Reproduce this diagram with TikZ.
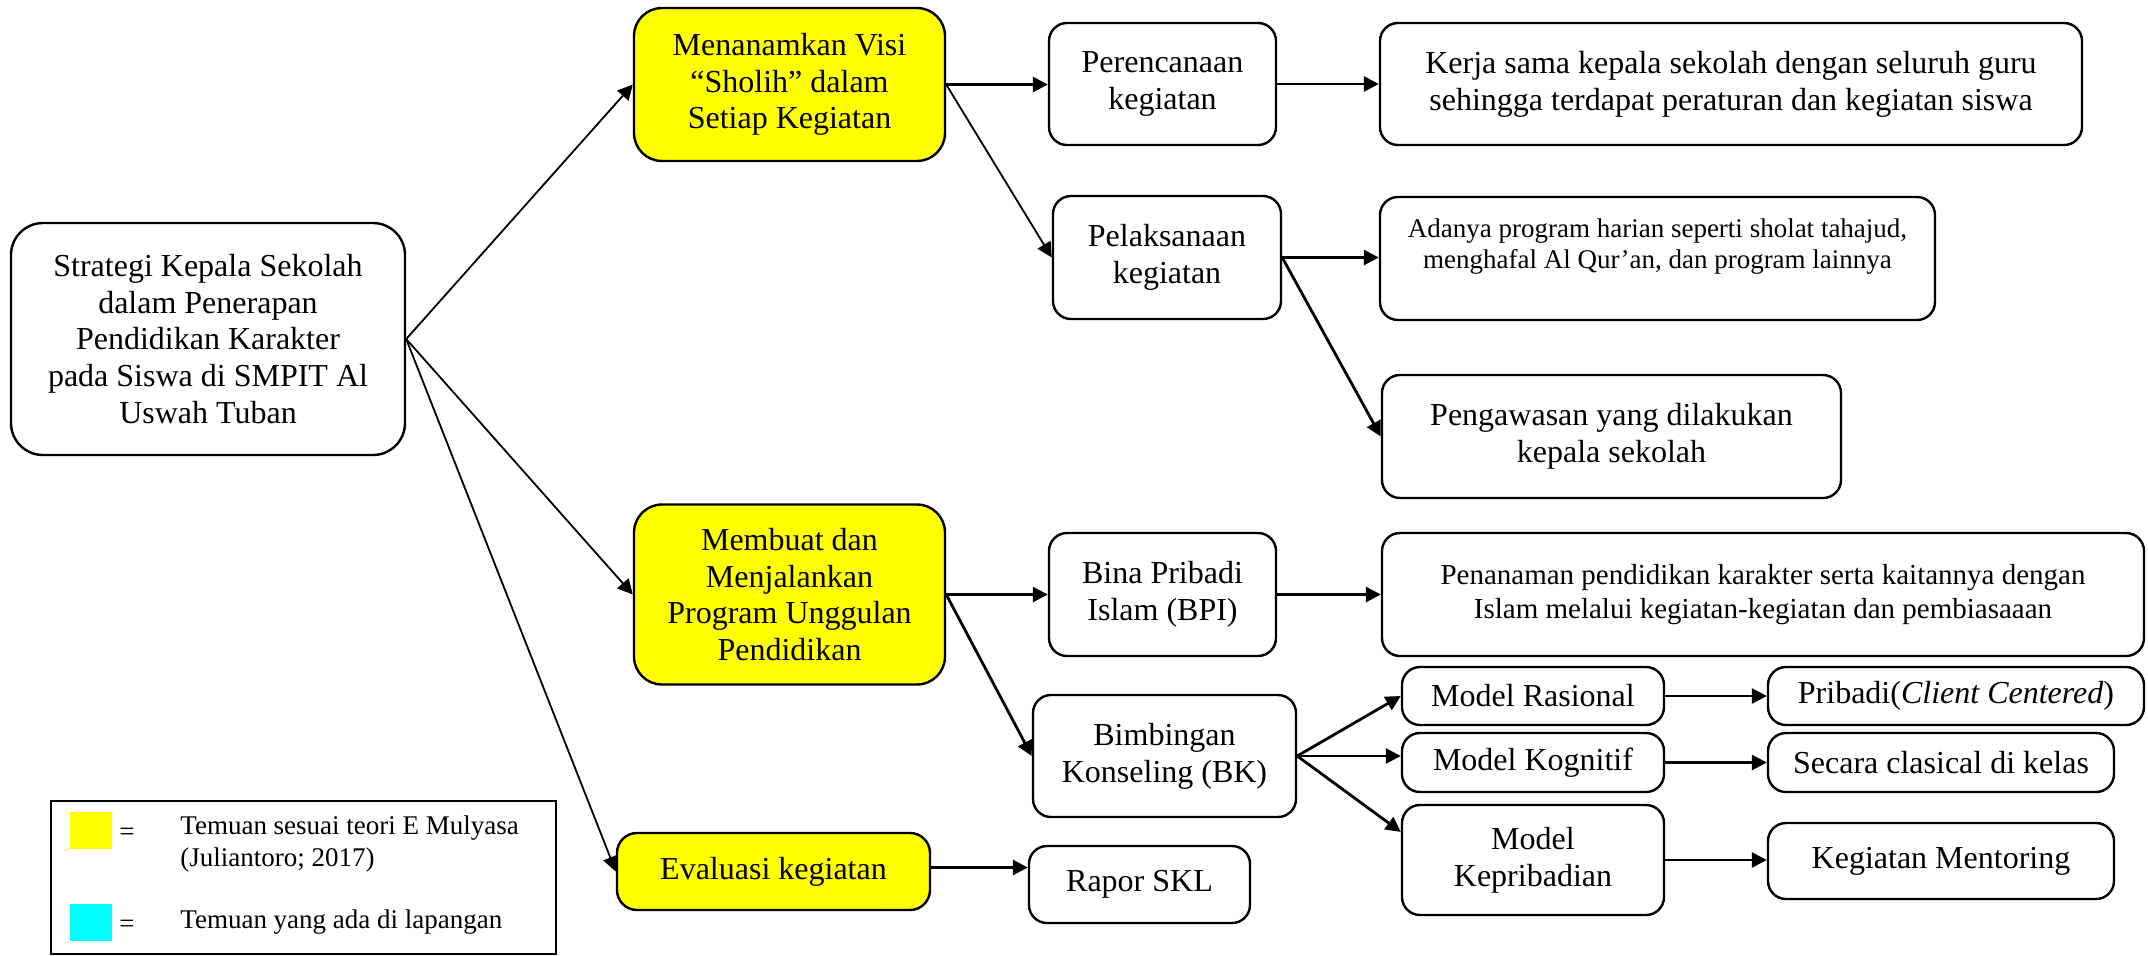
\documentclass[tikz,border=0pt]{standalone}
\usepackage{fontspec}
\setmainfont{Liberation Serif}
\usetikzlibrary{arrows.meta,calc}
\definecolor{ylw}{RGB}{255,255,0}
\definecolor{cyn}{RGB}{0,255,255}
\begin{document}
\begin{tikzpicture}[x=0.5pt,y=-0.5pt,
  box/.style={draw, line width=1.2pt, rounded corners=9pt, align=center, inner sep=2pt, font=\fontsize{16}{18.4}\selectfont},
  ybox/.style={box, fill=ylw, rounded corners=14pt},
  arr/.style={-{Triangle[length=7.5pt,width=7.5pt]}, line width=1.4pt},
  thinarr/.style={-{Triangle[length=7.5pt,width=7.5pt]}, line width=0.9pt},
  small/.style={font=\fontsize{13.5}{15.8}\selectfont},
  leg/.style={font=\fontsize{13.5}{16}\selectfont, inner sep=0pt},
]
\useasboundingbox (0,0) rectangle (2148,955);

% root
\node[box, rounded corners=16pt, minimum width=197pt, minimum height=116pt] (root) at (208,339)
  {Strategi Kepala Sekolah\\dalam Penerapan\\Pendidikan Karakter\\pada Siswa di SMPIT Al\\Uswah Tuban};

% yellow level
\node[ybox, minimum width=155.5pt, minimum height=76.5pt] (men) at (789.5,84.5)
  {Menanamkan Visi\\“Sholih” dalam\\Setiap Kegiatan};
\node[ybox, minimum width=155.5pt, minimum height=90pt] (mem) at (789.5,594.5)
  {Membuat dan\\Menjalankan\\Program Unggulan\\Pendidikan};
\node[ybox, rounded corners=10pt, minimum width=156.5pt, minimum height=38.5pt] (eva) at (773.5,871.5)
  {Evaluasi kegiatan};

% second level
\node[box, minimum width=113.5pt, minimum height=61pt] (per) at (1162.5,84) {Perencanaan\\kegiatan};
\node[box, minimum width=114pt, minimum height=61.5pt] (pel) at (1167,257.5) {Pelaksanaan\\kegiatan};
\node[box, minimum width=113.5pt, minimum height=61.5pt] (bina) at (1162.5,594.5) {Bina Pribadi\\Islam (BPI)};
\node[box, minimum width=131.5pt, minimum height=61pt] (bim) at (1164.5,756) {Bimbingan\\Konseling (BK)};
\node[box, minimum width=110.5pt, minimum height=38.5pt] (rap) at (1139.5,884.5) {Rapor SKL};

% third level
\node[box, minimum width=351pt, minimum height=61pt] (kerja) at (1731,84)
  {Kerja sama kepala sekolah dengan seluruh guru\\sehingga terdapat peraturan dan kegiatan siswa};
\node[box, minimum width=277.5pt, minimum height=61.5pt] (ada) at (1657.5,258.5) {};
\node[small, align=center, yshift=6pt] (adaT) at (ada.center)
  {Adanya program harian seperti sholat tahajud,\\menghafal Al Qur’an, dan program lainnya};
\node[box, minimum width=229.5pt, minimum height=61.5pt] (peng) at (1611.5,436.5)
  {Pengawasan yang dilakukan\\kepala sekolah};
\node[box, font=\fontsize{14.5}{16.7}\selectfont, minimum width=381pt, minimum height=61.5pt] (pen) at (1763,594.5)
  {Penanaman pendidikan karakter serta kaitannya dengan\\Islam melalui kegiatan-kegiatan dan pembiasaaan};
\node[box, minimum width=131pt, minimum height=29pt] (ras) at (1533,696) {Model Rasional};
\node[box, minimum width=131pt, minimum height=29.5pt] (kog) at (1533,762.5) {Model Kognitif};
\node[box, minimum width=131pt, minimum height=55pt] (kep) at (1533,860) {Model\\Kepribadian};

% fourth level
\node[box, minimum width=188pt, minimum height=29pt] (pri) at (1956,696) {Pribadi(\textit{Client Centered})};
\node[box, minimum width=173pt, minimum height=29.5pt] (sec) at (1941,762.5) {Secara clasical di kelas};
\node[box, minimum width=173pt, minimum height=38pt] (ment) at (1941,861) {Kegiatan Mentoring};

% connectors
\draw[thinarr] (root.east) -- (men.west);
\draw[thinarr] (root.east) -- (mem.west);
\draw[thinarr] (root.east) -- (eva.west);
\draw[arr] (men.east) -- (men.east -| per.west);
\draw[thinarr] (men.east) -- (pel.west);
\draw[arr] (per.east) -- (per.east -| kerja.west);
\draw[arr] (pel.east) -- (pel.east -| ada.west);
\draw[arr] (pel.east) -- (peng.west);
\draw[arr] (mem.east) -- (mem.east -| bina.west);
\draw[arr] (bina.east) -- (bina.east -| pen.west);
\draw[arr] (mem.east) -- (bim.west);
\draw[arr] (bim.east) -- (ras.west);
\draw[arr] (bim.east) -- (bim.east -| kog.west);
\draw[arr] (bim.east) -- (kep.168);
\draw[arr] (ras.east) -- (ras.east -| pri.west);
\draw[arr] (kog.east) -- (kog.east -| sec.west);
\draw[arr] (kep.east) -- (kep.east -| ment.west);
\draw[arr] ($(eva.east)+(0,-4)$) coordinate (evaE) -- (evaE -| rap.west);

% legend
\node[draw, line width=0.8pt, minimum width=252.5pt, minimum height=76.5pt, inner sep=0pt] (legend) at (303.5,877.5) {};
\node[fill=ylw, minimum width=21pt, minimum height=18.5pt, inner sep=0pt] (ly) at (91,830.5) {};
\node[fill=cyn, minimum width=21pt, minimum height=18.5pt, inner sep=0pt] (lc) at (91,922.5) {};
\node[leg] (eq1) at (127,834) {=};
\node[leg] (eq2) at (127,926) {=};
\node[leg, anchor=west, align=left] (lt1) at (180,844) {Temuan sesuai teori E Mulyasa\\(Juliantoro; 2017)};
\node[leg, anchor=west] (lt2) at (180,922) {Temuan yang ada di lapangan};
\end{tikzpicture}
\end{document}
